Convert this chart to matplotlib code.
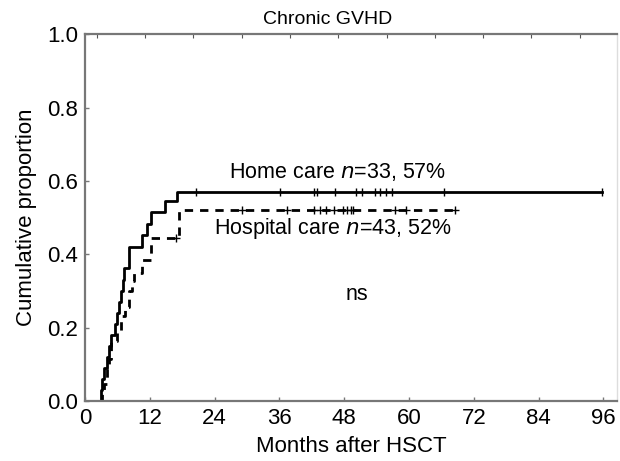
import numpy as np
import matplotlib
matplotlib.use('Agg')
import matplotlib.pyplot as plt

# 폰트: Helvetica 비슷한 것
plt.rcParams['font.family'] = ['Liberation Sans', 'DejaVu Sans']

# Home care (실선) - 사건 시점(개월)과 누적 비율
home_t = [0, 2.9, 3.2, 3.6, 4.0, 4.4, 4.8, 5.5, 6.0, 6.3, 6.6, 7.0, 7.3, 8.1,
          10.6, 11.5, 12.2, 14.8, 17.1, 95.7]
home_p = [0, 0.03, 0.06, 0.09, 0.12, 0.15, 0.18, 0.21, 0.24, 0.27, 0.30, 0.33,
          0.362, 0.42, 0.452, 0.482, 0.516, 0.546, 0.57, 0.57]
home_cens = [20.5, 36.2, 42.5, 43.0, 46.3, 50.2, 51.3, 53.8, 54.6, 55.7, 56.9,
             66.5, 95.7]

# Hospital care (점선)
hosp_t = [0, 3.1, 3.5, 4.1, 4.4, 4.8, 5.9, 6.6, 7.5, 8.1, 8.7, 9.0, 10.6,
          12.2, 17.4, 68.6]
hosp_p = [0, 0.023, 0.047, 0.093, 0.116, 0.163, 0.186, 0.233, 0.256, 0.30,
          0.326, 0.349, 0.384, 0.445, 0.52, 0.52]
hosp_cens = [16.8, 29.1, 37.5, 42.4, 43.6, 44.6, 46.1, 47.7, 48.6, 49.2, 49.6,
             57.5, 59.4, 68.6]

x_ticks = [0, 12, 24, 36, 48, 60, 72, 84, 96]
y_ticks = [0.0, 0.2, 0.4, 0.6, 0.8, 1.0]


def step_value(ts, ps, t):
    # t 시점의 계단 함수 값
    idx = np.searchsorted(ts, t, side='right') - 1
    return ps[idx]


fig = plt.figure(figsize=(6.2, 4.61), dpi=100)
ax = fig.add_axes([0.137, 0.130, 0.858, 0.796])

ax.step(home_t, home_p, where='post', color='black', lw=2.0)
ax.step(hosp_t, hosp_p, where='post', color='black', lw=2.0,
        linestyle=(0, (3.0, 2.5)))

# 중도절단 표시
ax.plot(home_cens, [step_value(home_t, home_p, t) for t in home_cens], '|',
        color='black', ms=6, mew=1.0)
ax.plot(hosp_cens, [step_value(hosp_t, hosp_p, t) for t in hosp_cens], '+',
        color='black', ms=6, mew=1.0)

ax.text(26.7, 0.625, 'Home care $\\it{n}$=33, 57%', fontsize=15.5, va='center')
ax.text(23.9, 0.47, 'Hospital care $\\it{n}$=43, 52%', fontsize=15.5, va='center')
ax.text(50.4, 0.29, 'ns', fontsize=15.5, ha='center', va='center')

ax.set_xlim(0, 98.5)
ax.set_ylim(0, 1.0)
ax.set_xticks(x_ticks)
ax.set_yticks(y_ticks)
ax.set_yticklabels(['%.1f' % v for v in y_ticks])
ax.tick_params(direction='in', length=3, width=1, color='#777777',
               labelsize=16, pad=5)

# 위쪽 작은 눈금
top = ax.secondary_xaxis('top')
top.set_xticks(np.arange(2.2, 97, 8.94))
top.tick_params(direction='in', length=3, color='#555555', labeltop=False)
top.spines['top'].set_visible(False)

for s in ['left', 'bottom', 'top']:
    ax.spines[s].set_color('#777777')
    ax.spines[s].set_linewidth(1.6)
ax.spines['right'].set_color('#dddddd')
ax.spines['right'].set_linewidth(1.0)

ax.set_xlabel('Months after HSCT', fontsize=16, labelpad=5)
ax.set_ylabel('Cumulative proportion', fontsize=16, labelpad=7)
ax.set_title('Chronic GVHD', fontsize=14, pad=7, x=0.457)

fig.savefig('out.png', dpi=100)
